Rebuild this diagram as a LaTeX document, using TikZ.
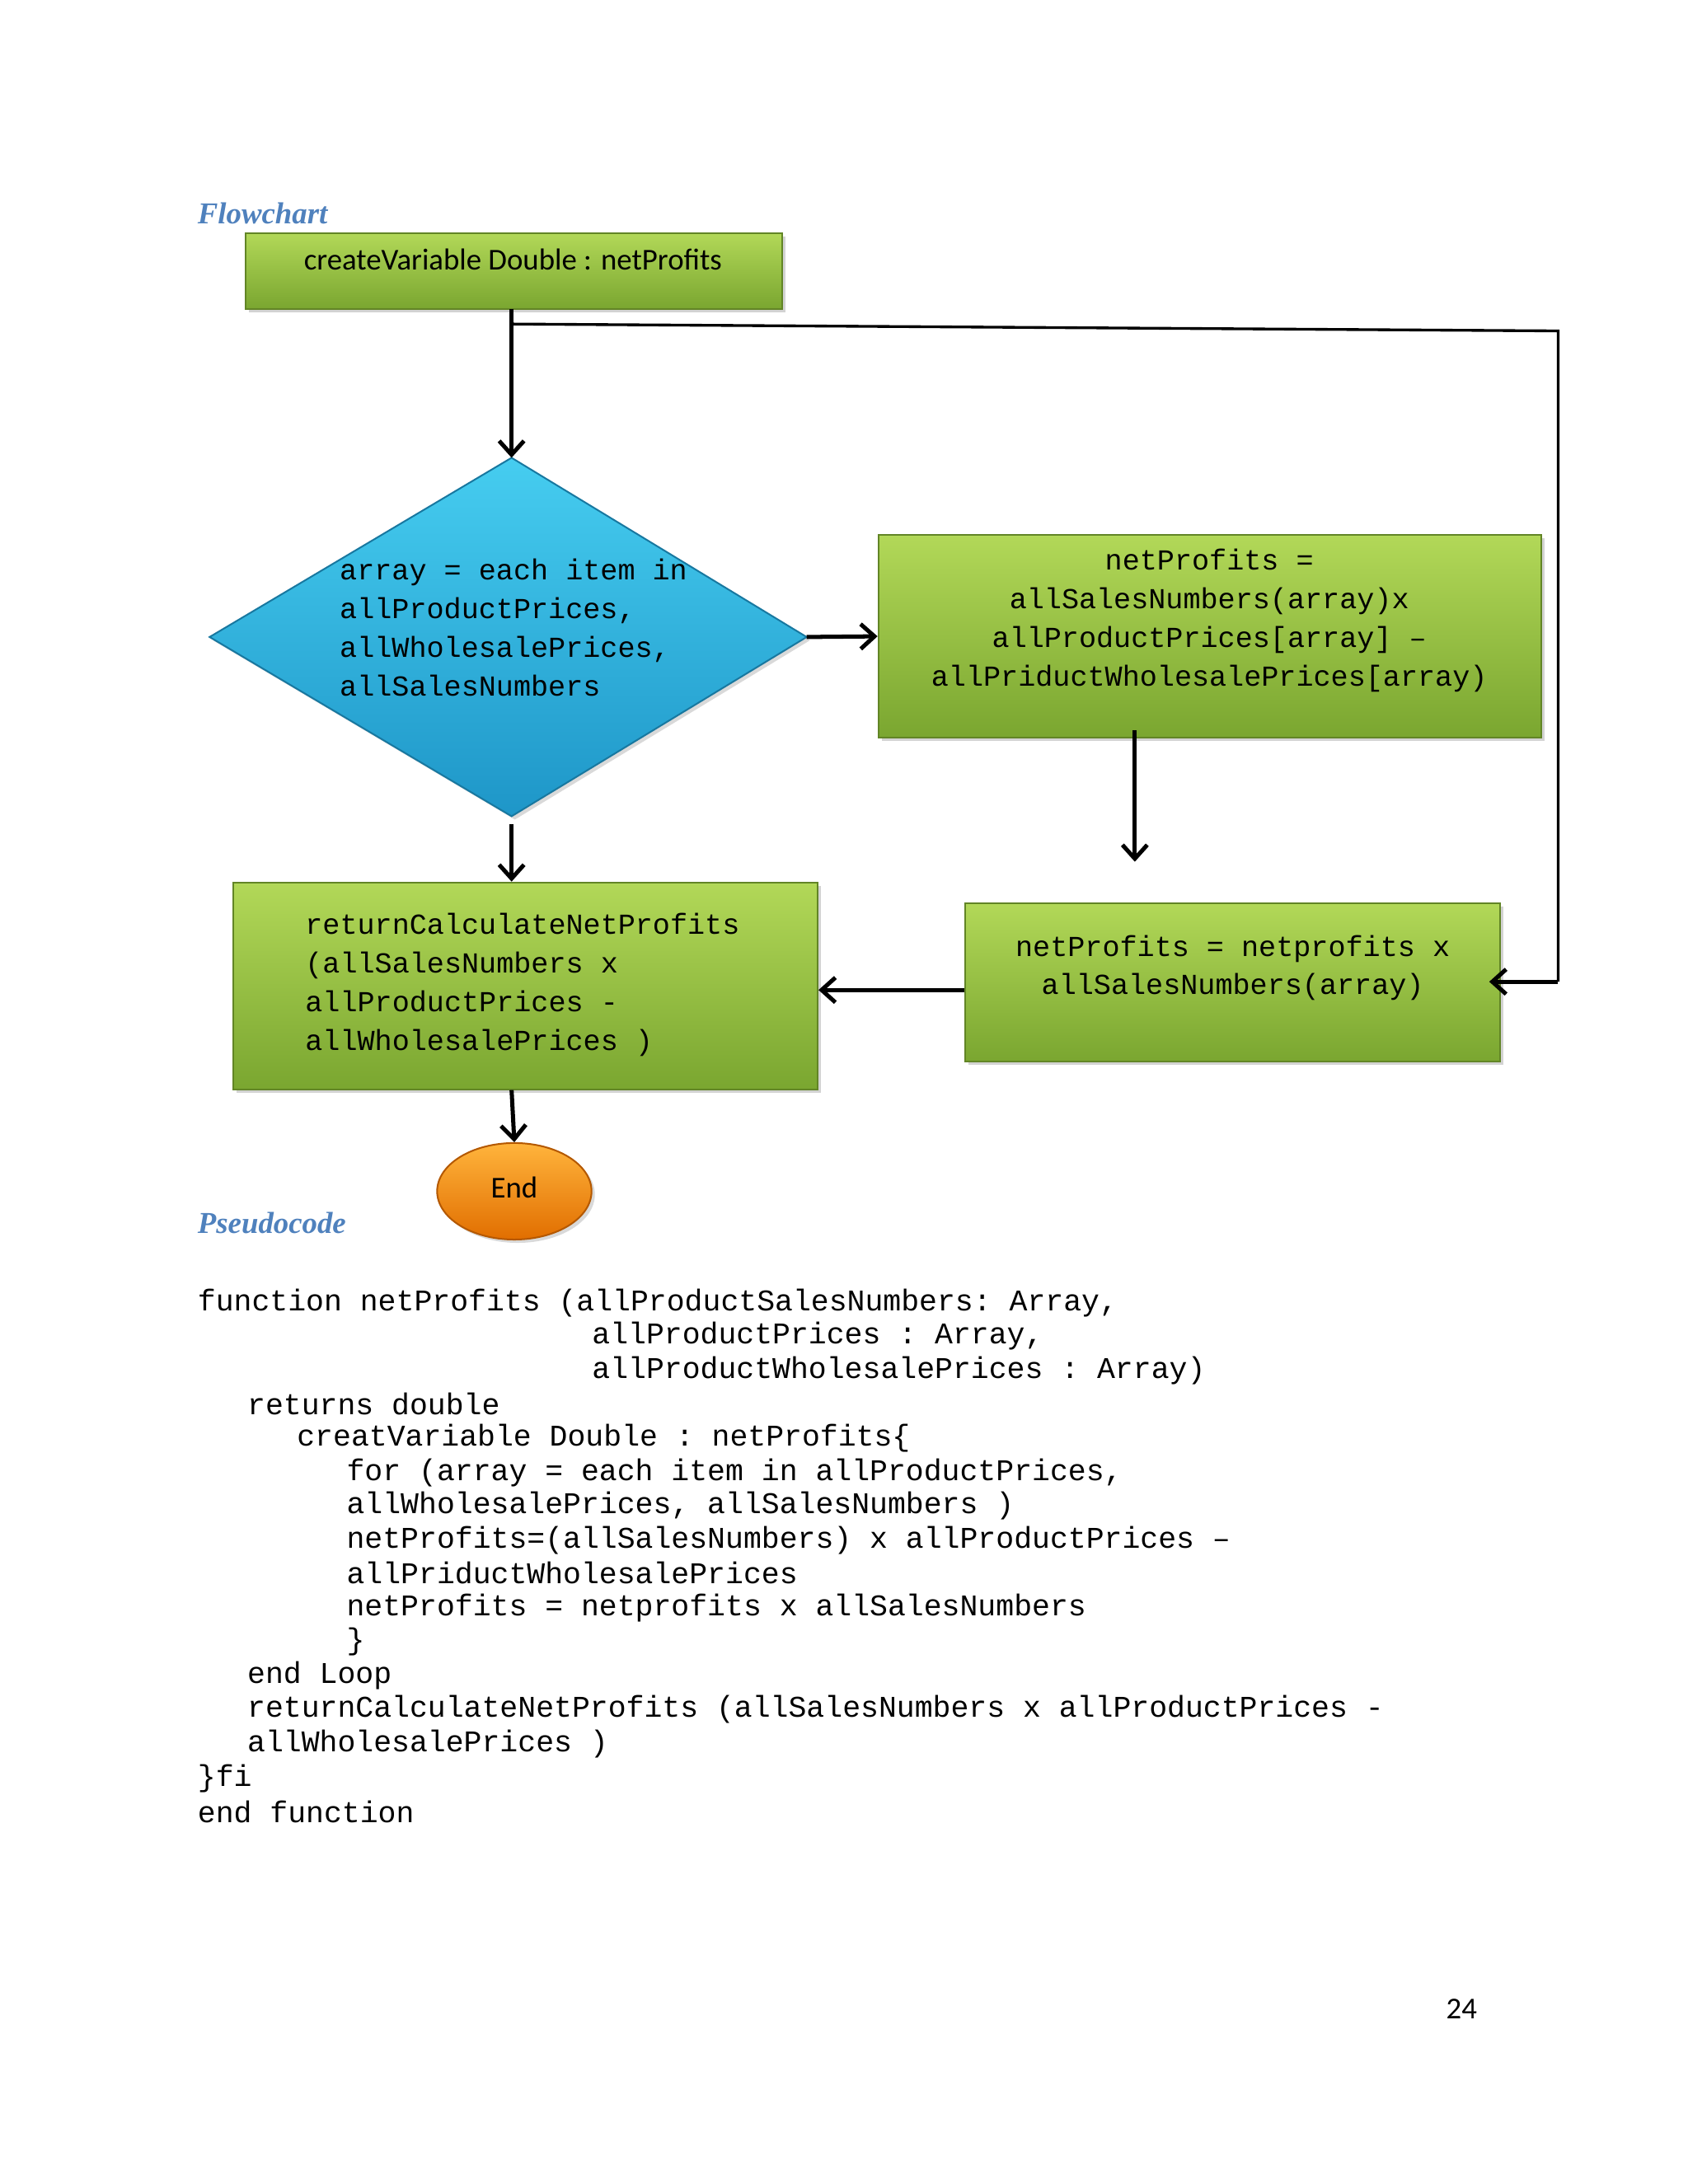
\documentclass[tikz,border=0pt]{standalone}
\usepackage{fontspec}
\setmainfont{Carlito}
\setmonofont{Liberation Mono}
\newfontfamily\headfont{Liberation Serif}
\usetikzlibrary{arrows.meta,shapes.geometric,shadows}
\definecolor{headblue}{RGB}{79,129,189}
\definecolor{gtop}{RGB}{178,216,88}
\definecolor{gbot}{RGB}{122,166,48}
\definecolor{btop}{RGB}{70,205,240}
\definecolor{bbot}{RGB}{30,150,200}
\definecolor{otop}{RGB}{255,180,60}
\definecolor{obot}{RGB}{225,110,0}
\tikzset{
  box/.style={draw=gbot!80!black,line width=0.6pt,top color=gtop,bottom color=gbot,
    drop shadow={shadow xshift=1.2pt,shadow yshift=-1.2pt,opacity=0.35}},
  flow/.style={line width=1.5pt,-{Straight Barb[length=5pt,width=9pt]}},
  link/.style={line width=1pt},
  code/.style={anchor=west,inner sep=0pt,font=\ttfamily\fontsize{10.9}{12}\selectfont},
  head/.style={anchor=west,inner sep=0pt,font=\headfont\bfseries\itshape\fontsize{11}{13}\selectfont,text=headblue},
  tt/.style={font=\ttfamily\fontsize{10.5}{14}\selectfont}
}
\begin{document}
\begin{tikzpicture}[x=0.5pt,y=-0.5pt]
\useasboundingbox (0,0) rectangle (1224,1584);
\node[head] (hflow) at (143,155) {Flowchart};
\node[box,minimum width=194.5pt,minimum height=27.5pt] (start) at (372.5,196.5) {};
\node[font=\fontsize{11}{13}\selectfont] (startt) at (372,188) {createVariable Double : netProfits};
\filldraw[draw=bbot!80!black,line width=0.6pt,top color=btop,bottom color=bbot,
  drop shadow={shadow xshift=1.2pt,shadow yshift=-1.2pt,opacity=0.3}]
  (371,332) -- (585,462) -- (371,592) -- (152,462) -- cycle;
\coordinate (dtop) at (371,332);
\coordinate (dright) at (585,462);
\coordinate (dbot) at (371,598);
\node[tt,align=left,anchor=north west,inner sep=0pt] (dtext) at (246,405)
  {array = each item in\\allProductPrices,\\allWholesalePrices,\\allSalesNumbers};
\node[box,minimum width=240.5pt,minimum height=73.5pt] (calc) at (877.5,461.5) {};
\node[tt,align=center] (calct) at (877,450)
  {netProfits =\\allSalesNumbers(array)x\\allProductPrices[array] –\\allPriductWholesalePrices[array)};
\node[box,minimum width=194pt,minimum height=57.5pt] (mult) at (894,712.5) {};
\node[tt,align=center] (multt) at (894,702) {netProfits = netprofits x\\allSalesNumbers(array)};
\node[box,minimum width=212pt,minimum height=75pt] (ret) at (381,715) {};
\node[tt,align=left,anchor=north west,inner sep=0pt] (rett) at (221,662)
  {returnCalculateNetProfits\\(allSalesNumbers x\\allProductPrices -\\allWholesalePrices )};
\node[ellipse,minimum width=56pt,minimum height=35pt,draw=obot!80!black,line width=0.6pt,
  top color=otop,bottom color=obot,drop shadow={shadow xshift=1.2pt,shadow yshift=-1.2pt,opacity=0.3}]
  (end) at (373,864) {};
\node[font=\fontsize{11}{13}\selectfont] (endt) at (373,861) {End};
% connectors
\coordinate (s1) at (371,224);
\coordinate (s2) at (371,235);
\coordinate (c1) at (1130,240);
\coordinate (c2) at (1130,712);
\coordinate (m1) at (1080,712);
\draw[flow] (s1) -- (dtop);
\draw[link] (s2) -- (c1) -- (c2);
\draw[flow] (c2) -- (m1);
\draw[flow] (dright) -- (calc.west);
\draw[flow] (calc.south -| 823,0) ++(0,3pt) -- (823,625);
\draw[flow] (mult.west |- 0,718) -- (ret.east |- 0,718);
\draw[flow] (dbot) -- (ret.north -| dbot);
\draw[flow] (ret.south -| dbot) -- (end.north);
% pseudocode
\node[head] (hcode) at (143,887) {Pseudocode};
\node[code] (l1) at (143,945) {function netProfits (allProductSalesNumbers: Array,};
\node[code] (l2) at (429,969) {allProductPrices : Array,};
\node[code] (l3) at (429,994) {allProductWholesalePrices : Array)};
\node[code] (l4) at (179,1018) {returns double};
\node[code] (l5) at (215,1043) {creatVariable Double : netProfits\{};
\node[code] (l6) at (251,1068) {for (array = each item in allProductPrices,};
\node[code] (l7) at (251,1092) {allWholesalePrices, allSalesNumbers )};
\node[code] (l8) at (251,1117) {netProfits=(allSalesNumbers) x allProductPrices –};
\node[code] (l9) at (251,1141) {allPriductWholesalePrices};
\node[code] (l10) at (251,1166) {netProfits = netprofits x allSalesNumbers};
\node[code] (l11) at (251,1191) {\}};
\node[code] (l12) at (179,1215) {end Loop};
\node[code] (l13) at (179,1240) {returnCalculateNetProfits (allSalesNumbers x allProductPrices -};
\node[code] (l14) at (179,1265) {allWholesalePrices )};
\node[code] (l15) at (143,1290) {\}fi};
\node[code] (l16) at (143,1314) {end function};
\node[font=\fontsize{11}{13}\selectfont] (page) at (1060,1457) {24};
\end{tikzpicture}
\end{document}
